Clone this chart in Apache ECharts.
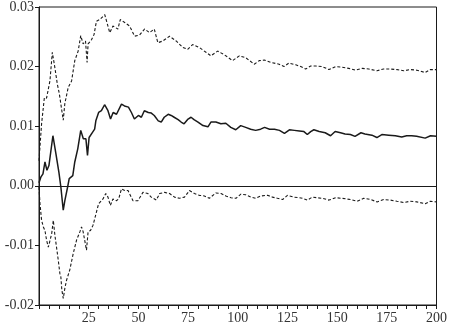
<!DOCTYPE html>
<html>
<head>
<meta charset="utf-8">
<script src="https://cdn.jsdelivr.net/npm/echarts@6/dist/echarts.min.js"></script>
<style>
  html, body { margin: 0; padding: 0; background: #fff; }
  #chart { width: 450px; height: 327px; }
</style>
</head>
<body>
<div id="chart"></div>
<script>
// horizon (x) and response values
var midX = [0, 1, 2, 3, 4, 5, 7, 8.5, 10, 11, 12.2, 13, 14.4, 15.2, 17, 18, 19.5, 21, 22.3, 23.6, 24.4, 25.2, 27, 28, 28.6, 30, 31.4, 33, 34.7, 36, 37.3, 39, 40, 41.5, 43, 45, 46.5, 48, 50, 51.5, 53, 55, 56.5, 58, 60, 61.5, 63, 65, 66.5, 68, 70, 71.5, 73, 75, 76.5, 78, 80, 82.5, 85, 86.5, 89, 91.5, 94, 96.5, 99, 101.5, 104, 106.5, 109, 111.5, 113.5, 116, 118.5, 121, 123.5, 126, 128.5, 131, 133.3, 135, 136.7, 138.3, 141, 144, 146.7, 149, 151.7, 154, 156.7, 159, 162, 164, 167.5, 170, 172.5, 176, 179.3, 182.5, 185, 187.5, 190, 194.3, 197, 200];
var midY = [0.0005, 0.0015, 0.002, 0.004, 0.0026, 0.0034, 0.0084, 0.0054, 0.0023, -0.0002, -0.0041, -0.0025, -0.0002, 0.0012, 0.0017, 0.004, 0.0062, 0.0093, 0.0079, 0.0079, 0.0051, 0.0081, 0.009, 0.0095, 0.0109, 0.0123, 0.0126, 0.0136, 0.0126, 0.0112, 0.0123, 0.012, 0.0118, 0.0137, 0.0134, 0.0132, 0.0123, 0.0112, 0.0118, 0.0115, 0.0126, 0.0123, 0.0122, 0.0118, 0.0109, 0.0107, 0.0115, 0.012, 0.0118, 0.0115, 0.0111, 0.0107, 0.0104, 0.0112, 0.0115, 0.0111, 0.0107, 0.0101, 0.0099, 0.0107, 0.0107, 0.0104, 0.0105, 0.0098, 0.0094, 0.0101, 0.0098, 0.0095, 0.0093, 0.0095, 0.0098, 0.0095, 0.0095, 0.0093, 0.0088, 0.0094, 0.0093, 0.0092, 0.0091, 0.0086, 0.0091, 0.0094, 0.0091, 0.0089, 0.0084, 0.0091, 0.0089, 0.0087, 0.0086, 0.0083, 0.0089, 0.0087, 0.0085, 0.0081, 0.0086, 0.0085, 0.0084, 0.0082, 0.0084, 0.0084, 0.0083, 0.008, 0.0084, 0.0083];

var upX = [0, 1.3, 2.7, 3.8, 5.5, 6.7, 8, 9.2, 10.2, 11, 12.2, 13, 14.7, 16.4, 18, 19.7, 21, 22.2, 23.4, 24.2, 24.7, 26.4, 27.7, 28.9, 30.6, 33.1, 35.6, 37.2, 39.7, 40.9, 43.1, 45.6, 48.1, 50.6, 53.1, 55.6, 58, 59.8, 62.3, 65.7, 69, 72.4, 74.8, 77.3, 80.7, 84, 86.5, 89.9, 93.2, 97.4, 100.8, 104, 108.3, 110.8, 113.3, 116.6, 120.8, 123.3, 125.8, 129.2, 131.7, 134.2, 136.7, 139.2, 142.5, 145.9, 149.2, 152.5, 155.9, 159.2, 162.6, 165.9, 170, 173.4, 176.7, 180.1, 183.5, 186.8, 190.1, 194.3, 196.9, 200];
var upY = [0.0042, 0.0104, 0.0148, 0.0147, 0.0176, 0.0224, 0.0198, 0.0171, 0.0155, 0.0157, 0.011, 0.0138, 0.0165, 0.0176, 0.021, 0.0226, 0.0252, 0.0238, 0.0243, 0.0207, 0.0238, 0.0245, 0.0254, 0.0276, 0.0279, 0.0287, 0.0257, 0.0268, 0.0263, 0.0279, 0.0274, 0.0268, 0.0251, 0.0253, 0.0263, 0.0257, 0.0263, 0.024, 0.0243, 0.0251, 0.0243, 0.0232, 0.0229, 0.0237, 0.0232, 0.0224, 0.0218, 0.0226, 0.022, 0.021, 0.0218, 0.0215, 0.0204, 0.021, 0.0211, 0.0207, 0.0204, 0.02, 0.0206, 0.0203, 0.02, 0.0196, 0.0201, 0.0201, 0.02, 0.0195, 0.02, 0.0199, 0.0197, 0.0194, 0.0197, 0.0196, 0.0193, 0.0196, 0.0196, 0.0195, 0.0193, 0.0195, 0.0194, 0.019, 0.0195, 0.0195];

var lowX = [0, 0.5, 1.3, 2.2, 3, 3.8, 4.7, 5.5, 6.4, 7.2, 8, 8.9, 9.7, 10.5, 11, 11.5, 12.2, 13, 13.9, 15.5, 17.2, 18.9, 20.6, 21.4, 22.2, 23, 23.9, 24.7, 25.9, 27.2, 28.9, 30, 32.2, 33.6, 34.7, 35.9, 37.2, 38.9, 40.1, 41.5, 43.1, 44.8, 47.3, 49.8, 52.3, 54.8, 56.5, 59, 60.7, 63.2, 65.7, 68.2, 70.7, 73.2, 75.7, 78.2, 80.7, 83.2, 85.7, 89, 91.6, 94, 96.6, 99.1, 101.6, 104, 106.6, 109.1, 111.6, 115, 117.5, 120, 122.6, 125, 128.3, 130.8, 132.5, 135, 137.5, 140, 142.5, 145.9, 149.2, 152.5, 156.7, 160.1, 163.4, 166.8, 170.1, 173.4, 176.8, 180.1, 183.5, 186.8, 190.1, 194.3, 196.9, 200];
var lowY = [-0.0002, -0.003, -0.0058, -0.0069, -0.0075, -0.0091, -0.0103, -0.01, -0.008, -0.0058, -0.0083, -0.0105, -0.0125, -0.0147, -0.0153, -0.0175, -0.0189, -0.0172, -0.0158, -0.0141, -0.0114, -0.0091, -0.0077, -0.0069, -0.0077, -0.0075, -0.0108, -0.0077, -0.0075, -0.0066, -0.0044, -0.003, -0.0022, -0.0013, -0.0019, -0.0033, -0.0022, -0.0025, -0.0022, -0.0005, -0.0008, -0.0008, -0.0025, -0.0025, -0.0011, -0.0013, -0.0019, -0.0024, -0.0013, -0.0011, -0.0013, -0.0019, -0.0021, -0.0019, -0.0008, -0.0013, -0.0016, -0.0017, -0.0021, -0.0012, -0.0013, -0.0017, -0.002, -0.0021, -0.0014, -0.0015, -0.0019, -0.0021, -0.0017, -0.0016, -0.0019, -0.0021, -0.0023, -0.0016, -0.0019, -0.002, -0.0021, -0.0024, -0.0019, -0.002, -0.0021, -0.0024, -0.002, -0.0021, -0.0023, -0.0026, -0.0021, -0.0023, -0.0027, -0.0023, -0.0024, -0.0026, -0.0028, -0.0026, -0.0027, -0.003, -0.0026, -0.0027];

var xTicks = [25, 50, 75, 100, 125, 150, 175, 200];
var yTicks = [-0.02, -0.01, 0.00, 0.01, 0.02, 0.03];

function pairs(xs, ys) {
    return xs.map(function(x, i) { return [x, ys[i]]; });
}

var chart = echarts.init(document.getElementById('chart'));
var INK = '#1a1a1a';
var FONT = '"Liberation Serif", "DejaVu Serif", serif';

var option = {
    animation: false,
    backgroundColor: '#fff',
    grid: {
        left: 39, right: 12, top: 6, bottom: 22,
        show: true, borderColor: INK, borderWidth: 1
    },
    xAxis: {
        type: 'value',
        min: 0, max: 200, interval: 25,
        axisLine: { show: true, onZero: false, lineStyle: { color: INK, width: 1 } },
        axisTick: { show: true, inside: false, length: 4, lineStyle: { color: INK } },
        minorTick: { show: true, splitNumber: 5, length: 4, lineStyle: { color: INK } },
        splitLine: { show: false },
        axisLabel: {
            color: '#333', fontFamily: FONT, fontSize: 14, margin: 6,
            formatter: function(v) { return xTicks.indexOf(v) >= 0 ? String(v) : ''; }
        }
    },
    yAxis: {
        type: 'value',
        min: -0.02, max: 0.03, interval: 0.01,
        axisLine: { show: true, lineStyle: { color: INK, width: 1 } },
        axisTick: { show: true, inside: false, length: 4, lineStyle: { color: INK } },
        splitLine: { show: false },
        axisLabel: {
            color: '#333', fontFamily: FONT, fontSize: 14, margin: 5,
            formatter: function(v) {
                var t = yTicks.filter(function(y) { return Math.abs(y - v) < 1e-9; });
                return t.length ? t[0].toFixed(2) : '';
            }
        }
    },
    series: [
        {
            name: 'upper', type: 'line', data: pairs(upX, upY),
            showSymbol: false, smooth: false,
            lineStyle: { color: INK, width: 1.1, type: [3, 2] }
        },
        {
            name: 'response', type: 'line', data: pairs(midX, midY),
            showSymbol: false, smooth: false,
            lineStyle: { color: INK, width: 1.5 },
            markLine: {
                silent: true, symbol: 'none', label: { show: false },
                lineStyle: { color: INK, width: 1, type: 'solid' },
                data: [{ yAxis: 0 }]
            }
        },
        {
            name: 'lower', type: 'line', data: pairs(lowX, lowY),
            showSymbol: false, smooth: false,
            lineStyle: { color: INK, width: 1.1, type: [3, 2] }
        }
    ]
};
chart.setOption(option);
</script>
</body>
</html>
